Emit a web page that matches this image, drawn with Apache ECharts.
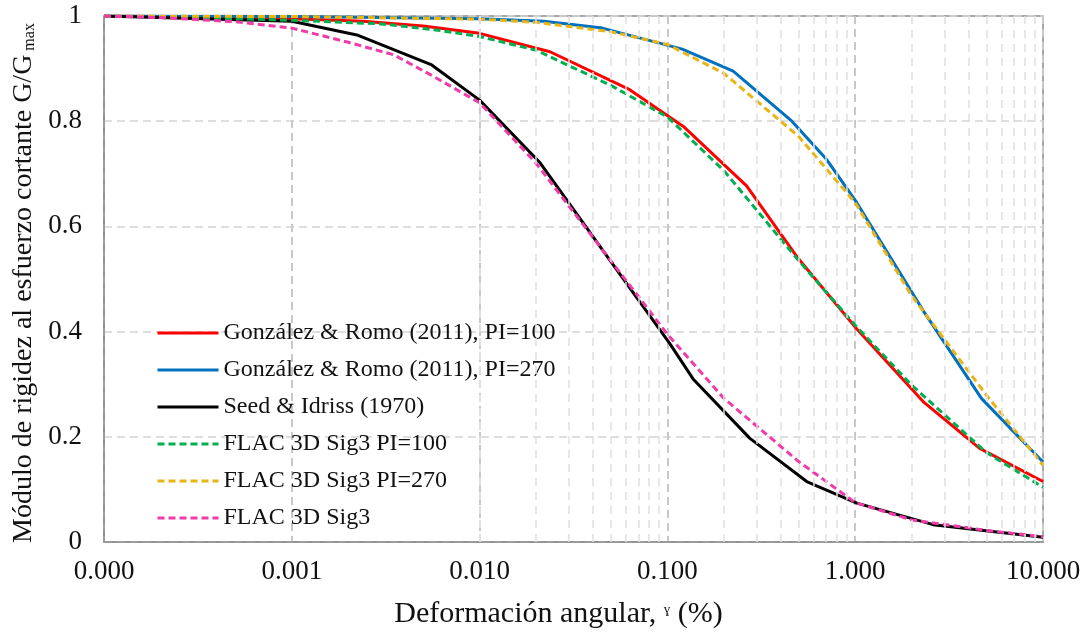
<!DOCTYPE html>
<html>
<head>
<meta charset="utf-8">
<script src="https://cdn.jsdelivr.net/npm/echarts@6/dist/echarts.min.js"></script>
<style>
html,body{margin:0;padding:0;background:#fff;}
#c{width:1087px;height:634px;}
</style>
</head>
<body>
<div id="c"></div>
<script>
// ---- data (strain in %, G/Gmax) ----
const redX   = [0.0001, 0.00022, 0.0005, 0.001, 0.0024, 0.005, 0.01, 0.0237, 0.063, 0.1216, 0.264, 0.5, 1.02, 2.3, 4.6, 10];
const redY   = [1.0, 0.999, 0.997, 0.995, 0.99, 0.981, 0.967, 0.932, 0.86, 0.79, 0.677, 0.538, 0.405, 0.267, 0.178, 0.115];
const blueX  = [0.0001, 0.001, 0.01, 0.022, 0.045, 0.12, 0.224, 0.46, 0.705, 1.02, 2.3, 4.7, 10];
const blueY  = [1.0, 0.999, 0.995, 0.99, 0.977, 0.937, 0.895, 0.80, 0.727, 0.645, 0.44, 0.273, 0.152];
const blackX = [0.0001, 0.001, 0.00222, 0.00556, 0.01, 0.021, 0.045, 0.103, 0.137, 0.275, 0.552, 1.02, 2.6, 10];
const blackY = [1.0, 0.99, 0.964, 0.907, 0.84, 0.721, 0.556, 0.377, 0.31, 0.197, 0.115, 0.074, 0.033, 0.009];
const greenX = [0.0001, 0.0003, 0.001, 0.003, 0.006, 0.01, 0.02, 0.05, 0.1, 0.2, 0.5, 1, 2, 5, 10];
const greenY = [1.0, 0.997, 0.992, 0.985, 0.973, 0.961, 0.935, 0.868, 0.808, 0.706, 0.535, 0.412, 0.298, 0.17, 0.104];
const yellowX = [0.0001, 0.001, 0.01, 0.02, 0.05, 0.1, 0.2, 0.5, 1, 2, 5, 10];
const yellowY = [1.0, 0.999, 0.994, 0.988, 0.97, 0.946, 0.891, 0.771, 0.645, 0.468, 0.279, 0.146];
const pinkX  = [0.0001, 0.0002, 0.0005, 0.001, 0.002, 0.0035, 0.0055, 0.01, 0.02, 0.045, 0.1, 0.2, 0.5, 1.0, 2.0, 5.0, 10];
const pinkY  = [1.0, 0.997, 0.989, 0.977, 0.95, 0.926, 0.888, 0.835, 0.72, 0.556, 0.395, 0.273, 0.153, 0.075, 0.042, 0.022, 0.01];

const seriesNames = [
  'González & Romo (2011), PI=100',
  'González & Romo (2011), PI=270',
  'Seed & Idriss (1970)',
  'FLAC 3D Sig3 PI=100',
  'FLAC 3D Sig3 PI=270',
  'FLAC 3D Sig3'
];

// minor log gridline positions (2..9 within each decade)
const minorGrid = [];
for (let e = -4; e < 1; e++) for (let k = 2; k <= 9; k++) minorGrid.push(k * Math.pow(10, e));

const pair = (xs, ys) => xs.map((x, i) => [x, ys[i]]);
const FONT = "'Liberation Serif','Times New Roman',serif";

function lineSeries(name, xs, ys, color, dashed, z) {
  return {
    name, type: 'line', data: pair(xs, ys), symbol: 'none', showSymbol: false, smooth: false, z,
    lineStyle: { color, width: 3, type: dashed ? [7, 4] : 'solid' },
    itemStyle: { color },
    emphasis: { disabled: true }
  };
}

const chart = echarts.init(document.getElementById('c'), null, { renderer: 'canvas' });
chart.setOption({
  animation: false,
  backgroundColor: '#fff',
  grid: { left: 104, right: 44, top: 16, bottom: 90, show: true, borderColor: '#8c8c8c', borderWidth: 1.5, backgroundColor: 'transparent' },
  legend: {
    data: seriesNames,
    orient: 'vertical', left: 151, top: 315,
    itemWidth: 61, itemHeight: 12, itemGap: 11,
    itemStyle: { opacity: 0, borderWidth: 0 },
    lineStyle: { width: 3 },
    textStyle: { fontFamily: FONT, fontSize: 24, color: '#111', lineHeight: 26 }
  },
  xAxis: {
    type: 'log', logBase: 10, min: 0.0001, max: 10,
    axisLine: { show: true, lineStyle: { color: '#8c8c8c', width: 1.5 } },
    axisTick: { show: false },
    axisLabel: { fontFamily: FONT, fontSize: 27, color: '#111', margin: 16,
      formatter: v => Number(v).toFixed(3) },
    splitLine: { show: true, lineStyle: { color: '#c8c8c8', width: 2, type: [8, 5] } },
    name: '{t|Deformación angular, }{g|ɣ}{t| (%)}',
    nameLocation: 'middle', nameGap: 57,
    nameTextStyle: { fontFamily: FONT, color: '#111', padding: [0, 30, 0, 0],
      rich: { t: { fontFamily: FONT, fontSize: 30, color: '#111' }, g: { fontFamily: FONT, fontSize: 13, color: '#111', padding: [0, 0, 8, 0] } } }
  },
  yAxis: {
    type: 'value', min: 0, max: 1, interval: 0.2,
    axisLine: { show: true, lineStyle: { color: '#8c8c8c', width: 1.5 } },
    axisTick: { show: false },
    axisLabel: { fontFamily: FONT, fontSize: 27, color: '#111', margin: 22,
      formatter: v => String(Math.round(v * 10) / 10) },
    splitLine: { show: true, lineStyle: { color: '#d4d4d4', width: 1.5, type: [8, 5] } },
    name: '{t|Módulo de rigidez al esfuerzo cortante G/G}{s| max}',
    nameLocation: 'middle', nameRotate: 90, nameGap: 62,
    nameTextStyle: { fontFamily: FONT, color: '#111', padding: [0, 8, 0, 0],
      rich: { t: { fontFamily: FONT, fontSize: 28, color: '#111' }, s: { fontFamily: FONT, fontSize: 16, color: '#111', verticalAlign: 'bottom', padding: [8, 0, 0, 0] } } }
  },
  series: [
    {
      name: 'minor', type: 'line', data: [], symbol: 'none', z: 1, silent: true,
      markLine: {
        silent: true, symbol: ['none', 'none'], animation: false,
        label: { show: false },
        lineStyle: { color: '#e0e0e0', width: 1.5, type: [8, 6] },
        emphasis: { disabled: true },
        data: minorGrid.map(v => ({ xAxis: v }))
      }
    },
    lineSeries(seriesNames[0], redX, redY, '#ff0000', false, 2),
    lineSeries(seriesNames[1], blueX, blueY, '#0070c0', false, 2),
    lineSeries(seriesNames[2], blackX, blackY, '#000000', false, 2),
    lineSeries(seriesNames[3], greenX, greenY, '#00b050', true, 3),
    lineSeries(seriesNames[4], yellowX, yellowY, '#e8b416', true, 3),
    lineSeries(seriesNames[5], pinkX, pinkY, '#f03ca8', true, 3)
  ]
});
</script>
</body>
</html>
